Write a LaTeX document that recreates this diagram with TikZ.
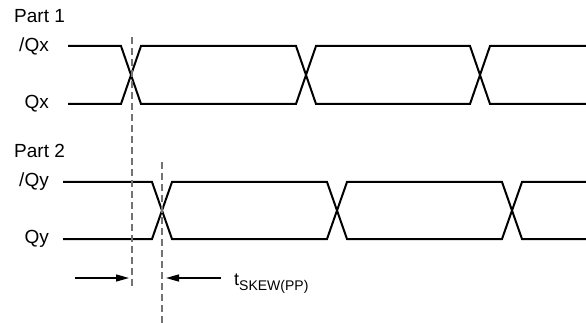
\documentclass[tikz,border=0pt]{standalone}
\usepackage{fontspec}
\setmainfont{Liberation Sans}
\usetikzlibrary{arrows.meta}
\begin{document}
\begin{tikzpicture}[x=1pt,y=-1pt,
  sig/.style={line width=2pt, line join=miter},
  guide/.style={draw=black!55, line width=1.5pt, dash pattern=on 7pt off 4pt},
  lbl/.style={inner sep=0pt, font=\fontsize{19}{21}\selectfont},
  dimarrow/.style={line width=1.3pt, -{Triangle[length=13pt,width=7pt]}}]
\useasboundingbox (0,0) rectangle (586,323);
% labels
\node[lbl, anchor=base west] (p1) at (14,22.5) {Part 1};
\node[lbl, anchor=east] (nqx) at (49,46) {/Qx};
\node[lbl, anchor=east] (qx) at (49,104) {Qx};
\node[lbl, anchor=base west] (p2) at (14,157.5) {Part 2};
\node[lbl, anchor=east] (nqy) at (49,182) {/Qy};
\node[lbl, anchor=east] (qy) at (49,239) {Qy};
% part 1 signals
\draw[sig] (68,46) -- (121,46) -- (141,104) -- (296,104) -- (316,46) -- (470,46) -- (490,104) -- (586,104);
\draw[sig] (68,104) -- (121,104) -- (141,46) -- (296,46) -- (316,104) -- (470,104) -- (490,46) -- (586,46);
% part 2 signals
\draw[sig] (63,182) -- (152,182) -- (172,239) -- (327,239) -- (347,182) -- (502,182) -- (522,239) -- (586,239);
\draw[sig] (63,239) -- (152,239) -- (172,182) -- (327,182) -- (347,239) -- (502,239) -- (522,182) -- (586,182);
% guides
\coordinate (g1t) at (132,37);
\coordinate (g1b) at (132,288);
\coordinate (g2t) at (162,162);
\coordinate (g2b) at (162,323);
\draw[guide] (g1t) -- (g1b);
\draw[guide] (g2t) -- (g2b);
% skew arrows
\coordinate (a1s) at (75,278);
\coordinate (a1e) at (129,278);
\coordinate (a2s) at (221,278);
\coordinate (a2e) at (166,278);
\draw[dimarrow] (a1s) -- (a1e);
\draw[dimarrow] (a2s) -- (a2e);
\node[inner sep=0pt, anchor=base west, font=\fontsize{18}{20}\selectfont] (tsk) at (234,285) {t\raisebox{-5pt}{\fontsize{14}{16}\selectfont SKEW(PP)}};
\end{tikzpicture}
\end{document}
